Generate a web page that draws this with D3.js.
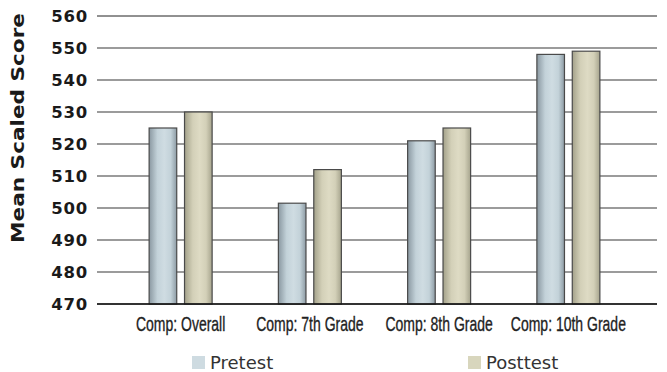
<!DOCTYPE html>
<html>
<head>
<meta charset="utf-8">
<script src="https://cdn.jsdelivr.net/npm/d3@7"></script>
<style>
  html, body { margin: 0; padding: 0; background: #fff; }
  svg { display: block; }
</style>
</head>
<body>
<svg id="chart" width="667" height="372"></svg>
<script>
// Mean scaled scores, pretest vs posttest, by comprehension group
const categories = ["Comp: Overall", "Comp: 7th Grade", "Comp: 8th Grade", "Comp: 10th Grade"];
const seriesNames = ["Pretest", "Posttest"];
const pretest = [525, 501.5, 521, 548];
const posttest = [530, 512, 525, 549];
const yTicks = [470, 480, 490, 500, 510, 520, 530, 540, 550, 560];

const svg = d3.select("#chart");
const plotLeft = 97, plotRight = 657, plotTop = 16, plotBottom = 304;

const y = d3.scaleLinear().domain([470, 560]).range([plotBottom, plotTop]);
const x = d3.scaleBand().domain(categories).range([116, 633]).paddingInner(0).paddingOuter(0);
const xs = d3.scaleBand().domain(seriesNames).range([0, 63]).paddingInner(0.22);

// Bar gradients: darker edges, lighter centre
const defs = svg.append("defs");
const grads = {
  Pretest: ["#8a98a1", "#c3d2d9", "#cfdce2", "#c3d2d9", "#8d9ba4"],
  Posttest: ["#a3a18a", "#d3d0b8", "#dedbc4", "#d3d0b8", "#a6a48d"]
};
Object.entries(grads).forEach(([name, stops]) => {
  const g = defs.append("linearGradient").attr("id", "g-" + name)
    .attr("x1", "0%").attr("x2", "100%").attr("y1", "0%").attr("y2", "0%");
  const offs = [0, 0.3, 0.55, 0.78, 1];
  stops.forEach((c, i) => g.append("stop").attr("offset", offs[i]).attr("stop-color", c));
});

// Gridlines
svg.append("g")
  .selectAll("line")
  .data(yTicks)
  .join("line")
  .attr("x1", plotLeft).attr("x2", plotRight)
  .attr("y1", d => y(d)).attr("y2", d => y(d))
  .attr("stroke", d => (d === 560 ? "#222" : "#7a7a7a"))
  .attr("stroke-width", d => (d === 560 ? 1 : 1.4));

// Y axis tick labels
const yAxis = d3.axisLeft(y).tickValues(yTicks).tickSize(0).tickPadding(0);
const yg = svg.append("g").attr("transform", `translate(${plotLeft - 9},0)`).call(yAxis);
yg.select(".domain").remove();
yg.selectAll("text")
  .attr("font-family", "DejaVu Sans, sans-serif")
  .attr("font-weight", "bold")
  .attr("font-size", "16.5px")
  .attr("letter-spacing", "0.8px")
  .attr("fill", "#1a1a1a")
  .attr("dy", "0.36em");

// Y axis title (wide bold face, stretched along its baseline)
svg.append("text")
  .attr("transform", `translate(24,${(plotTop + plotBottom) / 2 - 32}) rotate(-90) scale(1.27,1)`)
  .attr("text-anchor", "middle")
  .attr("font-family", "DejaVu Sans, sans-serif")
  .attr("font-weight", "bold")
  .attr("font-size", "17px")
  .attr("fill", "#1a1a1a")
  .text("Mean Scaled Score");

// Bars
const rows = categories.map((c, i) => ({ c, vals: [
  { s: "Pretest", v: pretest[i] },
  { s: "Posttest", v: posttest[i] }
]}));
const groupWidth = 63;
const groups = svg.append("g").selectAll("g")
  .data(rows)
  .join("g")
  .attr("transform", d => `translate(${x(d.c) + x.bandwidth() / 2 - groupWidth / 2},0)`);
groups.selectAll("rect")
  .data(d => d.vals)
  .join("rect")
  .attr("x", d => xs(d.s))
  .attr("width", xs.bandwidth())
  .attr("y", d => y(d.v))
  .attr("height", d => y(470) - y(d.v))
  .attr("fill", d => `url(#g-${d.s})`)
  .attr("stroke", "#4a4a4a")
  .attr("stroke-width", 1.2);

// Baseline
svg.append("line")
  .attr("x1", plotLeft).attr("x2", plotRight)
  .attr("y1", y(470)).attr("y2", y(470))
  .attr("stroke", "#111").attr("stroke-width", 1.5);

// Category labels in a condensed setting
const xAxis = d3.axisBottom(x).tickSize(0).tickPadding(0);
const xg = svg.append("g").attr("transform", `translate(0,${plotBottom})`).call(xAxis);
xg.select(".domain").remove();
xg.selectAll("text")
  .attr("font-family", "Liberation Sans, Arial, sans-serif")
  .attr("font-size", "20px")
  .attr("fill", "#222")
  .attr("stroke", "#222")
  .attr("stroke-width", 0.35)
  .attr("dy", 0)
  .attr("y", 27.5)
  .attr("transform", "scale(0.7,1)");

// Legend
const legendItems = [
  { s: "Pretest", x: 192, fill: "#cedbe1" },
  { s: "Posttest", x: 468, fill: "#d8d6bd" }
];
const lg = svg.append("g").selectAll("g").data(legendItems).join("g")
  .attr("transform", d => `translate(${d.x},356)`);
lg.append("rect").attr("width", 13).attr("height", 13).attr("fill", d => d.fill);
lg.append("text")
  .attr("x", 18).attr("y", 13)
  .attr("font-family", "DejaVu Sans, sans-serif")
  .attr("font-size", "18px")
  .attr("fill", "#333")
  .text(d => d.s);
</script>
</body>
</html>
